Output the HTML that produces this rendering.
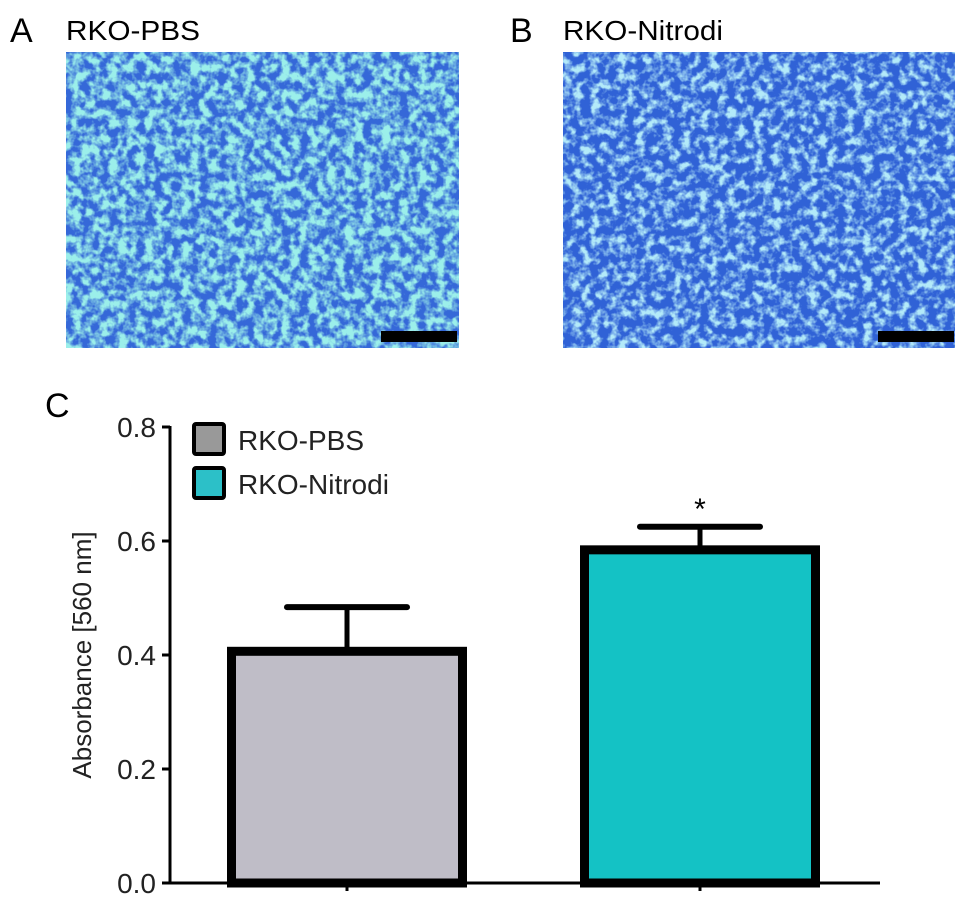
<!DOCTYPE html>
<html><head><meta charset="utf-8"><style>
body{margin:0;background:#fff;}
svg{display:block;font-family:"Liberation Sans",Arial,sans-serif;}
</style></head><body>
<svg id="fig" width="969" height="905" viewBox="0 0 969 905">
<defs>
<filter id="texA" x="0" y="0" width="100%" height="100%">
<feTurbulence type="fractalNoise" baseFrequency="0.11" numOctaves="3" seed="3"/>
<feColorMatrix type="matrix" values="0 0 0 0 0.33  0 0 0 0 0.86  0 0 0 0 0.82  3.5 0 0 0 -1.3"/>
</filter>
<filter id="texB" x="0" y="0" width="100%" height="100%">
<feTurbulence type="fractalNoise" baseFrequency="0.11" numOctaves="3" seed="8"/>
<feColorMatrix type="matrix" values="0 0 0 0 0.45  0 0 0 0 0.82  0 0 0 0 0.95  3.5 0 0 0 -1.5"/>
</filter>
</defs>
<text x="10" y="42" font-size="34">A</text>
<text x="66" y="40" font-size="28" textLength="134" lengthAdjust="spacingAndGlyphs">RKO-PBS</text>
<text x="510" y="42" font-size="34">B</text>
<text x="563" y="40" font-size="28" textLength="160" lengthAdjust="spacingAndGlyphs">RKO-Nitrodi</text>
<g>
<rect x="66" y="52" width="393" height="296" fill="#3568d8"/>
<rect x="66" y="52" width="393" height="296" filter="url(#texA)"/>
<rect x="381" y="331" width="76" height="11" fill="#000"/>
</g>
<g>
<rect x="563" y="52" width="392" height="296" fill="#3062d6"/>
<rect x="563" y="52" width="392" height="296" filter="url(#texB)"/>
<rect x="878" y="331" width="76" height="11" fill="#000"/>
</g>
<text x="45" y="417" font-size="34">C</text>
<g id="chart"></g>
</svg>
<script>
const categories = ["RKO-PBS", "RKO-Nitrodi"];
const means = [0.41, 0.588];
const errors = [0.074, 0.037];
const yTicks = [0, 0.2, 0.4, 0.6, 0.8];
const tickLabels = ["0.0", "0.2", "0.4", "0.6", "0.8"];
const fills = ["#bfbdc7", "#14c2c5"];
const legendFills = ["#999999", "#2cc0c8"];
const sig = ["", "*"];

const NS = "http://www.w3.org/2000/svg";
const g = document.getElementById("chart");
const X0 = 170, Y0 = 883, YTOP = 427, XEND = 880;
const y = v => Y0 - v / 0.8 * (Y0 - YTOP);
const centers = [347, 700];
const barW = 240;
function mk(tag, attrs, parent) {
  const e = document.createElementNS(NS, tag);
  for (const k in attrs) e.setAttribute(k, attrs[k]);
  (parent || g).appendChild(e);
  return e;
}
let ax = mk("line", {x1: X0, y1: YTOP - 1, x2: X0, y2: Y0 + 1.5, stroke: "#000", "stroke-width": 3});


let xa = mk("line", {x1: X0 - 1.5, y1: Y0, x2: XEND, y2: Y0, stroke: "#000", "stroke-width": 3});


yTicks.forEach((v, i) => {
  const t = mk("line", {x1: X0 - 8, y1: y(v), x2: X0, y2: y(v), stroke: "#000", "stroke-width": 3});
  
  
  const l = mk("text", {x: X0 - 14, y: y(v) + 10, "font-size": 28, "text-anchor": "end", fill: "#222"});
  l.textContent = tickLabels[i];
  
  
});
const yt = mk("text", {x: 0, y: 0, "font-size": 26, "text-anchor": "middle", fill: "#222", transform: "translate(91,655) rotate(-90)"});
yt.textContent = "Absorbance [560 nm]";


categories.forEach((c, i) => {
  const cx = centers[i];
  const tk = mk("line", {x1: cx, y1: Y0, x2: cx, y2: Y0 + 8, stroke: "#000", "stroke-width": 3});
  
  
  const top = y(means[i]), eTop = y(means[i] + errors[i]);
  const el = mk("line", {x1: cx, y1: eTop, x2: cx, y2: top, stroke: "#000", "stroke-width": 5});
  
  
  const cap = mk("line", {x1: cx - 60, y1: eTop, x2: cx + 60, y2: eTop, stroke: "#000", "stroke-width": 6, "stroke-linecap": "round"});
  
  
  const b = mk("rect", {x: cx - barW / 2 + 4.5, y: top + 2, width: barW - 9, height: Y0 - top - 2, fill: fills[i], stroke: "#000", "stroke-width": 9});
  
  
  if (sig[i]) {
    const s = mk("text", {x: cx, y: eTop - 8, "font-size": 30, "text-anchor": "middle"});
    s.textContent = sig[i];
    
    
  }
  const ly = 424 + i * 44;
  const lb = mk("rect", {x: 194, y: ly, width: 30, height: 30, fill: legendFills[i], stroke: "#000", "stroke-width": 4, rx: 2});
  
  
  const lt = mk("text", {x: 238, y: ly + 26, "font-size": 28, fill: "#222"});
  lt.textContent = c;
  
  
});
</script>
</body></html>
